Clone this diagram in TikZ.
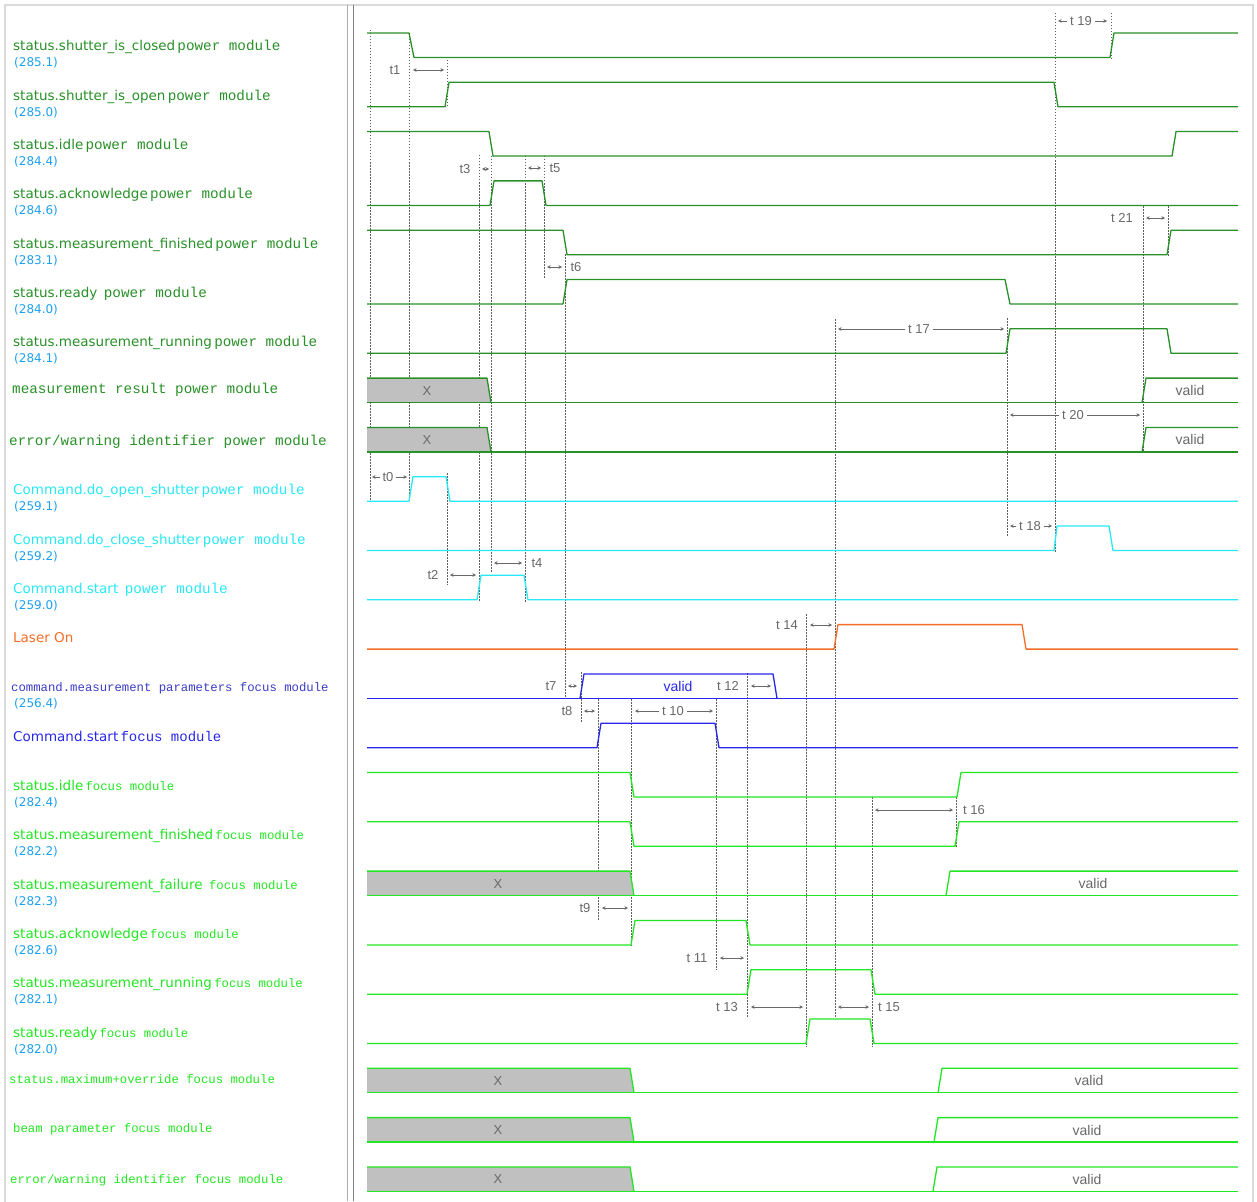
\documentclass[tikz,border=0pt]{standalone}
\usepackage{fontspec}
\setmainfont{DejaVu Sans}
\newfontfamily\pixfont{Liberation Mono}
\newfontfamily\annofont{Liberation Sans}
\usetikzlibrary{arrows.meta}

\definecolor{pwrgreen}{RGB}{40,145,40}
\definecolor{focgreen}{RGB}{35,230,35}
\definecolor{cmdcyan}{RGB}{40,232,245}
\definecolor{numblue}{RGB}{30,160,240}
\definecolor{laserorange}{RGB}{245,110,40}
\definecolor{focblue}{RGB}{40,40,235}
\definecolor{parblue}{RGB}{60,60,200}
\definecolor{busgray}{RGB}{192,192,192}
\definecolor{markgray}{RGB}{105,105,105}
\definecolor{tickgray}{RGB}{95,95,95}
\definecolor{framegray}{RGB}{218,218,218}

\tikzset{
  wave/.style={line width=1.3pt, line join=round},
  tick/.style={draw=tickgray, line width=0.8pt, dash pattern=on 1.5pt off 1.5pt},
  dim/.style={{Stealth[length=3.5pt,width=3.5pt]}-{Stealth[length=3.5pt,width=3.5pt]}, draw=markgray, line width=0.8pt},
  dimr/.style={-{Stealth[length=3.5pt,width=3.5pt]}, draw=markgray, line width=0.8pt},
  tlabel/.style={text=markgray, inner sep=2.5pt, font=\annofont\fontsize{13}{15}\selectfont},
  signame/.style={anchor=base west, inner sep=0pt, font=\fontsize{13.5}{16}\selectfont},
  pixname/.style={anchor=base west, inner sep=0pt, font=\pixfont\fontsize{12.3}{14}\selectfont},
  signum/.style={anchor=base west, inner sep=0pt, text=numblue, font=\fontsize{12}{14}\selectfont}
}

\begin{document}
\begin{tikzpicture}[x=1pt, y=-1pt]
    \useasboundingbox (0,0) rectangle (1257,1201);
    \fill[white] (0,0) rectangle (1257,1201);

    % frame
    \draw[framegray, line width=1.8pt] (5,5) rectangle (1253,1204);
    \draw[gray!65, line width=1.6pt] (347.5,5) -- (347.5,1201);
    \draw[gray, line width=1.6pt] (353.5,5) -- (353.5,1201);

    % reference lines
    \foreach \x/\ya/\yb in {370/30/500, 409/33/501, 447/57/108, 447/473/585, 479/155/602,
        491/156/573, 525/156/602, 544/156/279, 565/254/698, 581/672/723, 598/699/920,
        631/699/946, 716/699/970, 747/673/1018, 806/614/1047, 835/319/1018, 872/797/1047,
        956/797/848, 1007/318/537, 1055/13/553, 1111/13/60, 1143/206/453, 1168/206/257} {
        \draw[tick] (\x,\ya) -- (\x,\yb);
    }

    % signal names
    \foreach \i/\col/\nm/\sfx/\fs in {
        1/pwrgreen/status.shutter\_is\_closed/power module/14.3,
        2/pwrgreen/status.shutter\_is\_open/power module/14.3,
        3/pwrgreen/status.idle/power module/14.3,
        4/pwrgreen/status.acknowledge/power module/14.3,
        5/pwrgreen/status.measurement\_finished/power module/14.3,
        6/pwrgreen/status.ready\ /power module/14.3,
        7/pwrgreen/status.measurement\_running/power module/14.3,
        10/cmdcyan/Command.do\_open\_shutter/power module/14.3,
        11/cmdcyan/Command.do\_close\_shutter/power module/14.3,
        12/cmdcyan/Command.start\ /power module/14.3,
        13/laserorange/Laser On//14,
        15/focblue/Command.start/focus module/14,
        16/focgreen/status.idle/focus module/12.3,
        17/focgreen/status.measurement\_finished/focus module/12.3,
        18/focgreen/status.measurement\_failure\ /focus module/12.3,
        19/focgreen/status.acknowledge/focus module/12.3,
        20/focgreen/status.measurement\_running/focus module/12.3,
        21/focgreen/status.ready/focus module/12.3} {
        \node[signame, text=\col] (name\i) at (13, {51+(\i-1)*49.3}) {\nm\,{\pixfont\fontsize{\fs}{16}\selectfont\sfx}};
    }
    \node[pixname, font=\pixfont\fontsize{14.3}{16}\selectfont, text=pwrgreen] (name8) at (12,393) {measurement result power module};
    \node[pixname, font=\pixfont\fontsize{14.3}{16}\selectfont, text=pwrgreen] (name9) at (9,445) {error/warning identifier power module};
    \node[pixname, text=parblue] (name14) at (11,691) {command.measurement parameters focus module};
    \node[pixname, text=focgreen] (name22) at (9,1083) {status.maximum+override focus module};
    \node[pixname, text=focgreen] (name23) at (13,1132) {beam parameter focus module};
    \node[pixname, text=focgreen] (name24) at (10,1183) {error/warning identifier focus module};

    % ids
    \foreach \i/\num in {1/285.1, 2/285.0, 3/284.4, 4/284.6, 5/283.1, 6/284.0, 7/284.1,
        10/259.1, 11/259.2, 12/259.0, 14/256.4, 16/282.4, 17/282.2, 18/282.3, 19/282.6,
        20/282.1, 21/282.0} {
        \node[signum] (num\i) at (14, {67+(\i-1)*49.3}) {(\num)};
    }

    % power module
    \draw[wave, pwrgreen] (367,33) -- (409,33) -- (414,57.5) -- (1110,57.5) -- (1114,33) -- (1238,33);
    \draw[wave, pwrgreen] (367,106.8) -- (445,106.8) -- (449,82.3) -- (1054,82.3) -- (1058,106.8) -- (1238,106.8);
    \draw[wave, pwrgreen] (367,131.6) -- (489,131.6) -- (493,156.1) -- (1172,156.1) -- (1176,131.6) -- (1238,131.6);
    \draw[wave, pwrgreen] (367,205.4) -- (490,205.4) -- (494,180.9) -- (542,180.9) -- (546,205.4) -- (1238,205.4);
    \draw[wave, pwrgreen] (367,230.2) -- (563,230.2) -- (567,254.7) -- (1167,254.7) -- (1171,230.2) -- (1238,230.2);
    \draw[wave, pwrgreen] (367,304) -- (563,304) -- (567,279.5) -- (1005,279.5) -- (1010,304) -- (1238,304);
    \draw[wave, pwrgreen] (367,353.3) -- (1006,353.3) -- (1010,328.8) -- (1167,328.8) -- (1171,353.3) -- (1238,353.3);

    % commands
    \draw[wave, cmdcyan] (367,501.2) -- (409,501.2) -- (413,476.7) -- (446,476.7) -- (450,501.2) -- (1238,501.2);
    \draw[wave, cmdcyan] (367,550.5) -- (1054,550.5) -- (1057,526) -- (1109,526) -- (1113,550.5) -- (1238,550.5);
    \draw[wave, cmdcyan] (367,599.8) -- (477,599.8) -- (481,575.3) -- (524,575.3) -- (528,599.8) -- (1238,599.8);
    \draw[wave, laserorange] (367,649.1) -- (834,649.1) -- (838,624.6) -- (1022,624.6) -- (1026,649.1) -- (1238,649.1);
    \draw[wave, focblue] (367,698.4) -- (1238,698.4);
    \draw[wave, focblue] (580,698.4) -- (584,673.9) -- (773,673.9) -- (777,698.4);
    \node[tlabel, text=focblue, font=\annofont\fontsize{14}{16}\selectfont] (v0) at (678,686.2) {valid};
    \draw[wave, focblue] (367,747.7) -- (597,747.7) -- (601,723.2) -- (715,723.2) -- (719,747.7) -- (1238,747.7);

    % focus module
    \draw[wave, focgreen] (367,772.5) -- (630,772.5) -- (634,797) -- (957,797) -- (961,772.5) -- (1238,772.5);
    \draw[wave, focgreen] (367,821.8) -- (630,821.8) -- (634,846.3) -- (955,846.3) -- (959,821.8) -- (1238,821.8);
    \draw[wave, focgreen] (367,944.9) -- (631,944.9) -- (635,920.4) -- (746,920.4) -- (750,944.9) -- (1238,944.9);
    \draw[wave, focgreen] (367,994.2) -- (747,994.2) -- (751,969.7) -- (871,969.7) -- (875,994.2) -- (1238,994.2);
    \draw[wave, focgreen] (367,1043.5) -- (806,1043.5) -- (810,1019) -- (870,1019) -- (874,1043.5) -- (1238,1043.5);

    % buses
    \foreach \yh/\xg/\xv/\xx/\xt/\col [count=\k] in {378.1/487/1142/427/1190/pwrgreen,
        427.4/487/1142/427/1190/pwrgreen, 871.1/630/946/498/1093/focgreen,
        1068.3/630/938/498/1089/focgreen, 1117.6/630/934/498/1087/focgreen,
        1166.9/630/933/498/1087/focgreen} {
        \fill[busgray] (367,\yh) -- (\xg,\yh) -- (\xg+4,\yh+24.5) -- (367,\yh+24.5) -- cycle;
        \draw[wave, \col] (367,\yh) -- (\xg,\yh) -- (\xg+4,\yh+24.5);
        \draw[wave, \col] (367,\yh+24.5) -- (1238,\yh+24.5);
        \draw[wave, \col] (\xv,\yh+24.5) -- (\xv+4,\yh) -- (1238,\yh);
        \node[tlabel] (x\k) at (\xx,\yh+12.5) {X};
        \node[tlabel, font=\annofont\fontsize{14}{16}\selectfont] (v\k) at (\xt,\yh+12.5) {valid};
    }

    % timings
    \foreach \n/\txt/\lx/\ly/\xa/\xb in {1/t1/395/70/413/444, 2/t2/433/575/450/476,
        3/t3/465/169/482/489, 4/t4/537/563/494/522, 5/t5/555/168/528/541,
        6/t6/576/267/547/562, 7/t7/551/686/568/577, 8/t8/567/711/584/595,
        9/t9/585/908/602/628, 11/t 11/697/958/720/744, 12/t 12/728/686/751/771,
        13/t 13/727/1007/751/803, 14/t 14/787/625/810/832, 15/t 15/889/1007/838/869,
        16/t 16/974/810/875/953, 21/t 21/1122/218/1146/1165} {
        \node[tlabel] (t\n) at (\lx,\ly) {\txt};
        \draw[dim] (\xa,\ly) -- (\xb,\ly);
    }
    \foreach \n/\txt/\lx/\ly/\xa/\xb in {0/t0/388/477/372/407, 10/t 10/673/711/635/713,
        17/t 17/919/329/838/1004, 18/t 18/1030/526/1010/1052, 19/t 19/1081/21/1058/1107,
        20/t 20/1073/415/1010/1140} {
        \node[tlabel] (t\n) at (\lx,\ly) {\txt};
        \draw[dimr] (t\n) -- (\xa,\ly);
        \draw[dimr] (t\n) -- (\xb,\ly);
    }
\end{tikzpicture}
\end{document}
